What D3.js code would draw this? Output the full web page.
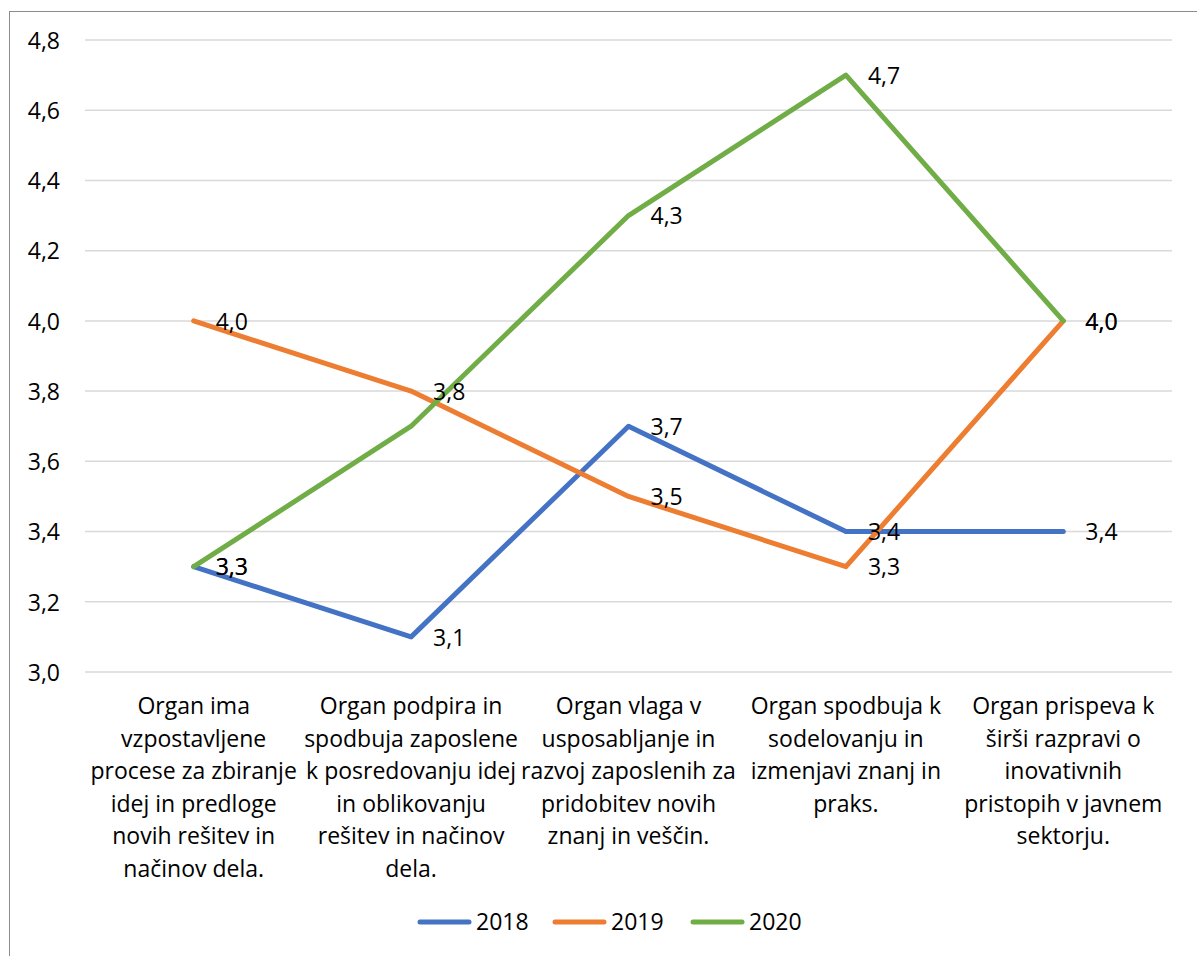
<!DOCTYPE html>
<html lang="sl">
<head>
<meta charset="utf-8">
<title>Chart</title>
<script src="https://d3js.org/d3.v7.min.js"></script>
<style>
  body { margin: 0; background: #fff; }
  svg text { font-family: "Open Sans", Lato, sans-serif; fill: #000; }
</style>
</head>
<body>
<div id="chart"></div>
<script>
var categories = [
  "Organ ima\nvzpostavljene\nprocese za zbiranje\nidej in predloge\nnovih rešitev in\nnačinov dela.",
  "Organ podpira in\nspodbuja zaposlene\nk posredovanju idej\nin oblikovanju\nrešitev in načinov\ndela.",
  "Organ vlaga v\nusposabljanje in\nrazvoj zaposlenih za\npridobitev novih\nznanj in veščin.",
  "Organ spodbuja k\nsodelovanju in\nizmenjavi znanj in\npraks.",
  "Organ prispeva k\nširši razpravi o\ninovativnih\npristopih v javnem\nsektorju."
]
var years = ["2018", "2019", "2020"]
var values2018 = [3.3, 3.1, 3.7, 3.4, 3.4]
var values2019 = [4.0, 3.8, 3.5, 3.3, 4.0]
var values2020 = [3.3, 3.7, 4.3, 4.7, 4.0]
// which points carry a visible data label
var labels2020 = [true, false, true, true, true]
var yTicks = [3.0, 3.2, 3.4, 3.6, 3.8, 4.0, 4.2, 4.4, 4.6, 4.8]
var colors = ["#4472C4", "#ED7D31", "#70AD47"]

var width = 1197, height = 956
var plotLeft = 85, plotRight = 1172, plotTop = 40, plotBottom = 672
var fontSize = "23px"

var svg = d3.select("#chart").append("svg")
  .attr("width", width).attr("height", height)

// outer chart frame (runs past the picture on right and bottom)
svg.append("rect")
  .attr("x", 9.5).attr("y", 11.5)
  .attr("width", 1300).attr("height", 1100)
  .attr("fill", "none").attr("stroke", "#8c8c8c").attr("stroke-width", 1)

var x = d3.scalePoint().domain(categories).range([plotLeft, plotRight]).padding(0.5)
var y = d3.scaleLinear().domain([3.0, 4.8]).range([plotBottom, plotTop])
var fmt = function(v) { return d3.format(".1f")(v).replace(".", ",") }

// gridlines
svg.append("g").selectAll("line").data(yTicks).enter().append("line")
  .attr("x1", plotLeft).attr("x2", plotRight)
  .attr("y1", function(d) { return y(d) }).attr("y2", function(d) { return y(d) })
  .attr("stroke", "#d9d9d9").attr("stroke-width", 1.5)

// y axis labels
var yAxis = d3.axisLeft(y).tickValues(yTicks).tickFormat(fmt).tickSize(0).tickPadding(25)
var gy = svg.append("g").attr("transform", "translate(" + plotLeft + ",0)").call(yAxis)
gy.select(".domain").remove()
gy.selectAll("text").style("font-size", fontSize).attr("dy", "0.36em")
gy.attr("font-family", null).attr("font-size", null)

// category labels
var gx = svg.append("g")
categories.forEach(function(c) {
  var t = gx.append("text")
    .attr("x", x(c)).attr("y", 714)
    .attr("text-anchor", "middle")
    .style("font-size", fontSize)
  c.split("\n").forEach(function(line, i) {
    t.append("tspan").attr("x", x(c)).attr("dy", i === 0 ? 0 : 32.6).text(line)
  })
})

var series = [values2018, values2019, values2020]
var line = d3.line()
  .x(function(d, i) { return x(categories[i]) })
  .y(function(d) { return y(d) })

series.forEach(function(vals, s) {
  svg.append("path").datum(vals)
    .attr("d", line)
    .attr("fill", "none")
    .attr("stroke", colors[s])
    .attr("stroke-width", 5)
    .attr("stroke-linejoin", "round")
    .attr("stroke-linecap", "round")
})

// data labels
series.forEach(function(vals, s) {
  var pts = vals.map(function(v, i) { return { v: v, c: categories[i], show: s !== 2 || labels2020[i] } })
    .filter(function(p) { return p.show })
  svg.append("g").selectAll("text").data(pts).enter()
    .append("text")
    .attr("x", function(p) { return x(p.c) + 22 })
    .attr("y", function(p) { return y(p.v) })
    .attr("dy", "0.38em")
    .style("font-size", fontSize)
    .text(function(p) { return fmt(p.v) })
})

// legend
var legend = svg.append("g")
var lx = [420, 555, 693]
years.forEach(function(yr, i) {
  legend.append("line")
    .attr("x1", lx[i]).attr("x2", lx[i] + 49)
    .attr("y1", 922).attr("y2", 922)
    .attr("stroke", colors[i]).attr("stroke-width", 5)
    .attr("stroke-linecap", "round")
  legend.append("text")
    .attr("x", lx[i] + 56).attr("y", 922).attr("dy", "0.36em")
    .style("font-size", fontSize)
    .text(yr)
})
</script>
</body>
</html>
